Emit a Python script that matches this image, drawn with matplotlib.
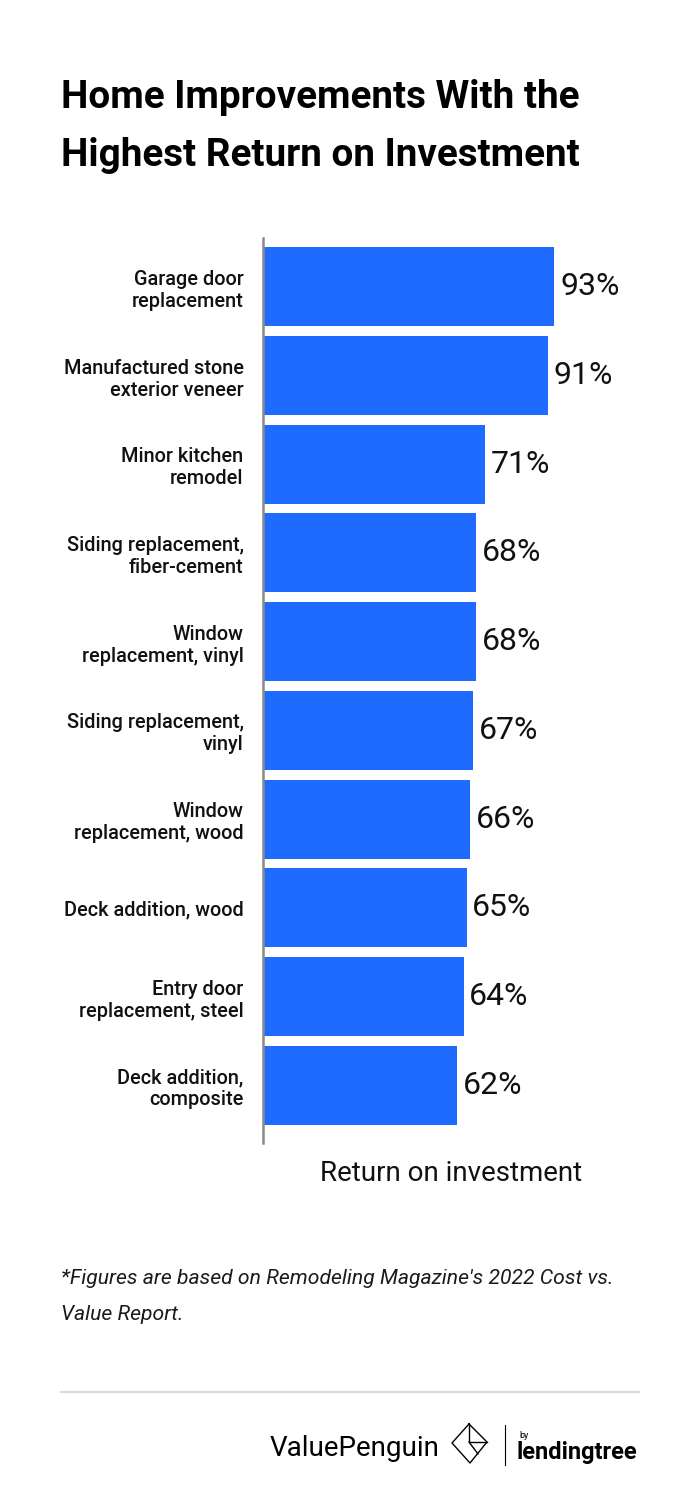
import matplotlib
matplotlib.use("Agg")
import matplotlib.pyplot as plt
from matplotlib.lines import Line2D

plt.rcParams['font.family'] = ['Roboto', 'DejaVu Sans']

categories = [
    'Garage door\nreplacement',
    'Manufactured stone\nexterior veneer',
    'Minor kitchen\nremodel',
    'Siding replacement,\nfiber-cement',
    'Window\nreplacement, vinyl',
    'Siding replacement,\nvinyl',
    'Window\nreplacement, wood',
    'Deck addition, wood',
    'Entry door\nreplacement, steel',
    'Deck addition,\ncomposite',
]
roi = [93, 91, 71, 68, 68, 67, 66, 65, 64, 62]

W, H = 700, 1502
BLUE = '#1f6bff'


def fx(px):
    return px / W


def fy(py):
    return 1 - py / H


fig = plt.figure(figsize=(W / 100, H / 100), dpi=100)
fig.patch.set_facecolor('white')

ax = fig.add_axes([fx(263), fy(1143), fx(639) - fx(263), fy(238) - fy(1143)])
pos = list(range(len(roi)))
ax.barh(pos, roi, height=0.89, color=BLUE)
ax.set_xlim(0, 120)
ax.set_ylim(9.65, -0.55)

for y, v in zip(pos, roi):
    ax.text(v + 1.8, y, f'{v}%', va='center', ha='left', fontsize=23,
            color='#111111')

ax.set_yticks(pos)
ax.set_yticklabels(categories, fontsize=14.3, fontweight='medium',
                   linespacing=1.2, color='#111111')
ax.tick_params(axis='y', length=0, pad=14)
ax.set_xticks([])
for s in ['top', 'right', 'bottom']:
    ax.spines[s].set_visible(False)
ax.spines['left'].set_color('#8a8a8a')
ax.spines['left'].set_linewidth(1.8)
ax.set_xlabel('Return on investment', fontsize=20, color='#111111',
              labelpad=12)

# title
fig.text(fx(61), fy(97), 'Home Improvements With the', fontsize=27.8,
         fontweight='bold', va='center', ha='left', color='black')
fig.text(fx(61), fy(155), 'Highest Return on Investment', fontsize=27.8,
         fontweight='bold', va='center', ha='left', color='black')

# footnote
fig.text(fx(61), fy(1278), "*Figures are based on Remodeling Magazine's 2022 Cost vs.",
         fontsize=15.2, style='italic', va='center', ha='left', color='#1a1a1a')
fig.text(fx(61), fy(1314), 'Value Report.', fontsize=15.2, style='italic',
         va='center', ha='left', color='#1a1a1a')

# separator
fig.add_artist(Line2D([fx(61), fx(639)], [fy(1392), fy(1392)],
                      color='#d9d9d9', linewidth=1.5))

# logo
fig.text(fx(270), fy(1448), 'ValuePenguin', fontsize=20,
         va='center', ha='left', color='black')
top, right, bottom, left = (469, 1424), (487, 1442), (470, 1463), (452, 1443)
outline = [top, right, bottom, left, top]
fig.add_artist(Line2D([fx(p[0]) for p in outline], [fy(p[1]) for p in outline],
                      color='black', linewidth=1.0))
inner = [top, (469, 1442), right]
fig.add_artist(Line2D([fx(p[0]) for p in inner], [fy(p[1]) for p in inner],
                      color='black', linewidth=1.0))
fig.add_artist(Line2D([fx(469), fx(478)], [fy(1442), fy(1454)],
                      color='black', linewidth=1.0))
fig.add_artist(Line2D([fx(505), fx(505)], [fy(1425), fy(1465)],
                      color='black', linewidth=0.8))
fig.text(fx(519), fy(1435), 'by', fontsize=6.5, va='center', ha='left',
         color='black')
fig.text(fx(517), fy(1452), 'lendingtree', fontsize=17, fontweight='bold',
         va='center', ha='left', color='black')

fig.savefig('out.png', dpi=100, facecolor='white')
